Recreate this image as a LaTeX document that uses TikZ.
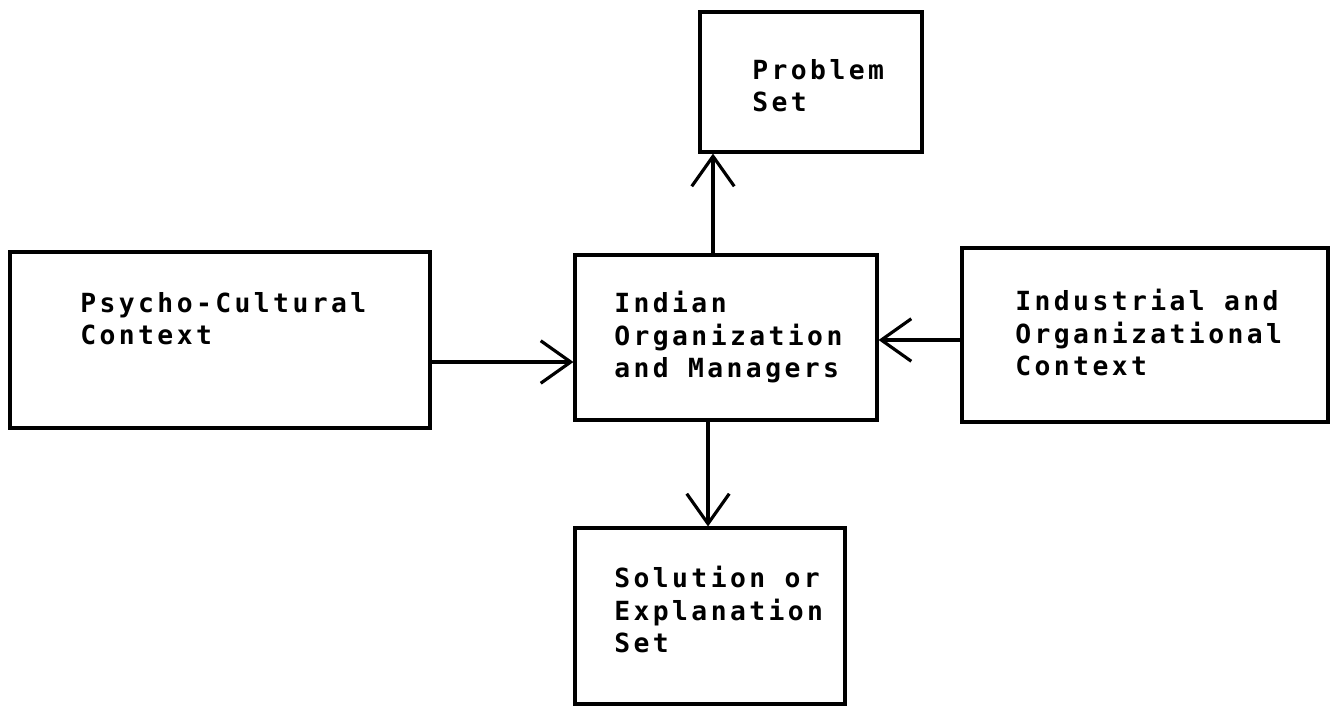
\documentclass[tikz,border=0pt]{standalone}
\usepackage{fontspec}
\setmonofont{DejaVu Sans Mono}[LetterSpace=13]
\usetikzlibrary{arrows.meta}

\begin{document}
\begin{tikzpicture}[x=0.02cm, y=-0.02cm,
  box/.style={rectangle, draw, line width=1.8pt},
  lbl/.style={anchor=north west, align=left, inner sep=0pt,
              font=\ttfamily\bfseries\fontsize{15}{18.5}\selectfont},
  arr/.style={-{Straight Barb[length=0.6cm, width=0.85cm]}, line width=1.8pt},
]
\useasboundingbox (0,0) rectangle (1338,708);
% boxes
\node[box, minimum width=4.44cm, minimum height=2.8cm]  (prob) at (811,82)  {};
\node[box, minimum width=8.4cm,  minimum height=3.52cm] (psy)  at (220,340) {};
\node[box, minimum width=6.04cm, minimum height=3.3cm]  (org)  at (726,337.5) {};
\node[box, minimum width=7.32cm, minimum height=3.48cm] (ind)  at (1145,335) {};
\node[box, minimum width=5.4cm,  minimum height=3.52cm] (sol)  at (710,616) {};
% texts
\node[lbl] (probText) at (752,59)  {Problem\\Set};
\node[lbl] (psyText)  at (80,292)  {Psycho-Cultural\\Context};
\node[lbl] (orgText)  at (614,291) {Indian\\Organization\\and Managers};
\node[lbl] (indText)  at (1015,289) {Industrial and\\Organizational\\Context};
\node[lbl] (solText)  at (614,566) {Solution or\\Explanation\\Set};
% arrows
\draw[arr] ([xshift=-0.26cm]org.north) -- ([xshift=-0.26cm]org.north |- prob.south);
\draw[arr] ([xshift=-0.36cm]org.south) -- ([xshift=-0.36cm]org.south |- sol.north);
\draw[arr] ([yshift=-0.44cm]psy.east) -- ([yshift=-0.44cm]psy.east -| org.west);
\draw[arr] ([yshift=-0.1cm]ind.west) -- ([yshift=-0.1cm]ind.west -| org.east);
\end{tikzpicture}
\end{document}
